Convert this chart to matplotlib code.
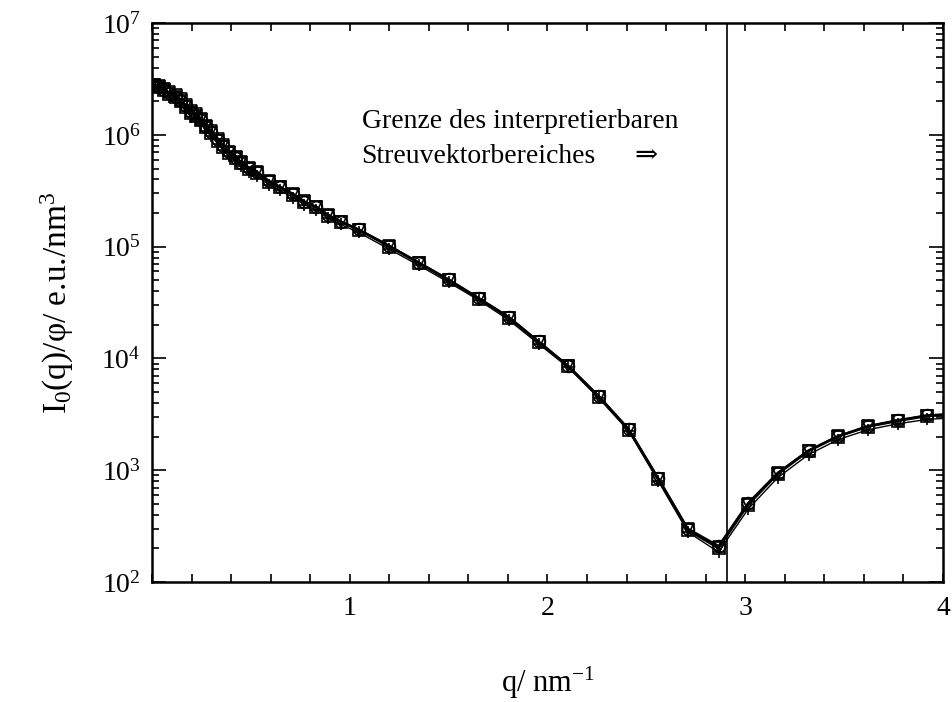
import numpy as np
import matplotlib
matplotlib.use('Agg')
import matplotlib.pyplot as plt
from matplotlib.ticker import MultipleLocator, FixedLocator, LogLocator, NullFormatter, LogFormatterSciNotation

plt.rcParams['font.family'] = ['Liberation Serif', 'DejaVu Serif']
plt.rcParams['mathtext.fontset'] = 'custom'
plt.rcParams['mathtext.rm'] = 'Liberation Serif'
plt.rcParams['mathtext.it'] = 'Liberation Serif:italic'
plt.rcParams['font.size'] = 20

# scattering vector q in 1/nm
q = [0.01, 0.035, 0.06, 0.085, 0.12, 0.145, 0.17, 0.195, 0.22, 0.25,
     0.275, 0.30, 0.335, 0.36, 0.39, 0.425, 0.45, 0.49, 0.53, 0.59,
     0.645, 0.715, 0.77, 0.83, 0.89, 0.955, 1.045, 1.2, 1.35, 1.5,
     1.655, 1.805, 1.955, 2.105, 2.26, 2.41, 2.56, 2.71, 2.865, 3.015,
     3.165, 3.32, 3.47, 3.62, 3.77, 3.92, 4.07]

# normalised intensities I0(q)/phi for the four samples
i_square = [2.79e6, 2.69e6, 2.51e6, 2.34e6, 2.19e6, 2.0e6, 1.78e6, 1.58e6, 1.48e6, 1.35e6,
            1.17e6, 1.05e6, 8.9e5, 7.8e5, 6.9e5, 6.2e5, 5.6e5, 5.0e5, 4.6e5, 3.8e5,
            3.4e5, 2.9e5, 2.5e5, 2.25e5, 1.9e5, 1.66e5, 1.41e5, 1.0e5, 7.1e4, 5.0e4,
            3.4e4, 2.3e4, 1.4e4, 8.5e3, 4.5e3, 2.3e3, 830, 290, 200, 490,
            925, 1.48e3, 2.0e3, 2.45e3, 2.75e3, 3.05e3, 3.15e3]
i_circle = [2.8e6, 2.7e6, 2.52e6, 2.36e6, 2.2e6, 2.02e6, 1.8e6, 1.6e6, 1.49e6, 1.36e6,
            1.18e6, 1.06e6, 9.0e5, 7.9e5, 7.0e5, 6.25e5, 5.65e5, 5.05e5, 4.65e5, 3.85e5,
            3.45e5, 2.95e5, 2.52e5, 2.27e5, 1.92e5, 1.68e5, 1.43e5, 1.02e5, 7.2e4, 5.1e4,
            3.45e4, 2.35e4, 1.42e4, 8.6e3, 4.6e3, 2.35e3, 850, 300, 210, 510,
            950, 1.5e3, 2.02e3, 2.48e3, 2.8e3, 3.1e3, 3.2e3]
i_triangle = [2.82e6, 2.74e6, 2.58e6, 2.42e6, 2.27e6, 2.08e6, 1.86e6, 1.65e6, 1.54e6, 1.4e6,
              1.21e6, 1.09e6, 9.2e5, 8.1e5, 7.1e5, 6.35e5, 5.75e5, 5.1e5, 4.7e5, 3.9e5,
              3.45e5, 2.95e5, 2.55e5, 2.28e5, 1.93e5, 1.68e5, 1.42e5, 1.01e5, 7.2e4, 5.05e4,
              3.42e4, 2.32e4, 1.41e4, 8.5e3, 4.55e3, 2.3e3, 840, 295, 205, 500,
              940, 1.5e3, 2.02e3, 2.47e3, 2.78e3, 3.08e3, 3.18e3]
i_plus = [2.7e6, 2.55e6, 2.35e6, 2.18e6, 2.02e6, 1.84e6, 1.63e6, 1.46e6, 1.36e6, 1.25e6,
          1.08e6, 9.7e5, 8.3e5, 7.3e5, 6.5e5, 5.8e5, 5.3e5, 4.7e5, 4.3e5, 3.6e5,
          3.2e5, 2.75e5, 2.37e5, 2.13e5, 1.8e5, 1.58e5, 1.34e5, 9.5e4, 6.8e4, 4.8e4,
          3.3e4, 2.2e4, 1.35e4, 8.3e3, 4.4e3, 2.25e3, 800, 280, 185, 450,
          860, 1.38e3, 1.88e3, 2.3e3, 2.6e3, 2.85e3, 2.95e3]

q_limit = 2.91  # upper end of the usable q range

fig = plt.figure(figsize=(9.53, 7.02), dpi=100)
ax = fig.add_axes([0.1595, 0.171, 0.83, 0.796])

series = [(i_square, 's', 1.6), (i_circle, 'o', 1.6), (i_triangle, 'v', 1.6), (i_plus, '+', 1.0)]
for vals, mk, lw in series:
    ax.plot(q, vals, color='black', linewidth=lw, marker=mk, markersize=8.5,
            markerfacecolor='none', markeredgecolor='black', markeredgewidth=1.2)

ax.axvline(q_limit, color='black', linewidth=1.2)

ax.set_yscale('log')
ax.set_xlim(0, 4)
ax.set_ylim(1e2, 1e7)

ax.xaxis.set_major_locator(FixedLocator([1, 2, 3, 4]))
ax.xaxis.set_minor_locator(MultipleLocator(0.2))
ax.yaxis.set_major_locator(LogLocator(base=10))
ax.yaxis.set_minor_locator(LogLocator(base=10, subs=np.arange(2, 10)))
ax.yaxis.set_minor_formatter(NullFormatter())
ax.yaxis.set_major_formatter(LogFormatterSciNotation())

ax.tick_params(which='both', direction='in', top=True, right=True, width=1.2)
ax.tick_params(axis='x', which='both', length=6, pad=10)
ax.tick_params(axis='y', which='major', length=10, pad=8)
ax.tick_params(axis='y', which='minor', length=5)
for sp in ax.spines.values():
    sp.set_linewidth(1.8)

ax.set_xlabel('q/ nm$^{-1}$', fontsize=22, labelpad=32)
ax.set_ylabel('I$_0$(q)/φ/ e.u./nm$^3$', fontsize=24, labelpad=18)

ax.text(1.06, 1.16e6, 'Grenze des interpretierbaren', va='baseline', ha='left', fontsize=20)
ax.text(1.06, 5.65e5, 'Streuvektorbereiches', va='baseline', ha='left', fontsize=20)
ax.text(2.44, 5.65e5, '⇒', va='baseline', ha='left', fontsize=20)

fig.savefig('out.png', dpi=100)
